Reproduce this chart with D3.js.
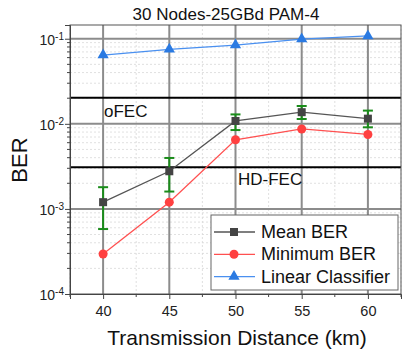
<!DOCTYPE html>
<html><head><meta charset="utf-8">
<script src="https://cdn.jsdelivr.net/npm/d3@7"></script>
<style>body{margin:0;background:#fff}svg{display:block}text{font-family:Arial,"Liberation Sans",sans-serif}</style>
</head><body><svg id="c" width="405" height="352"></svg>
<script>
const distances = [40, 45, 50, 55, 60];
const meanBER = [1.2e-3, 2.77e-3, 1.08e-2, 1.37e-2, 1.15e-2];
const meanErrHigh = [1.8e-3, 3.97e-3, 1.29e-2, 1.62e-2, 1.43e-2];
const meanErrLow = [5.8e-4, 1.6e-3, 8.45e-3, 1.14e-2, 9.1e-3];
const minBER = [2.95e-4, 1.2e-3, 6.5e-3, 8.7e-3, 7.5e-3];
const linearBER = [0.0643, 0.075, 0.0843, 0.099, 0.108];
const thresholds = [{name: "oFEC", value: 2.02e-2}, {name: "HD-FEC", value: 3.08e-3}];
const xTicks = [40, 45, 50, 55, 60];
const yTicks = [1e-4, 1e-3, 1e-2, 1e-1];
const titleText = "30 Nodes-25GBd PAM-4";

const svg = d3.select("#c");
const L = 70, R = 401, T = 25, B = 294;
const x = d3.scaleLinear().domain([37.5, 62.5]).range([L, R]);
const y = d3.scaleLog().domain([1e-4, 0.145]).range([B, T]);

// minor grid
const minorX = d3.range(37.5, 62.6, 2.5).filter(v => v % 5 !== 0);
const minorY = [];
for (let e = -4; e <= -1; e++) for (let m = 2; m <= 9; m++) { const v = m * Math.pow(10, e); if (v < 0.145) minorY.push(v); }
svg.append("g").selectAll("line").data(minorX).join("line")
  .attr("x1", d => x(d)).attr("x2", d => x(d)).attr("y1", T).attr("y2", B)
  .attr("stroke", "#d8d8d8").attr("stroke-width", 0.8).attr("stroke-dasharray", "2,2");
svg.append("g").selectAll("line").data(minorY).join("line")
  .attr("x1", L).attr("x2", R).attr("y1", d => y(d)).attr("y2", d => y(d))
  .attr("stroke", "#d8d8d8").attr("stroke-width", 0.8).attr("stroke-dasharray", "2,2");
// major grid
svg.append("g").selectAll("line").data(xTicks).join("line")
  .attr("x1", d => x(d)).attr("x2", d => x(d)).attr("y1", T).attr("y2", B)
  .attr("stroke", "#8c8c8c").attr("stroke-width", 2);
svg.append("g").selectAll("line").data(yTicks.slice(1)).join("line")
  .attr("x1", L).attr("x2", R).attr("y1", d => y(d)).attr("y2", d => y(d))
  .attr("stroke", "#8c8c8c").attr("stroke-width", 2);

// threshold lines
svg.append("g").selectAll("line").data(thresholds).join("line")
  .attr("x1", L).attr("x2", R).attr("y1", d => y(d.value)).attr("y2", d => y(d.value))
  .attr("stroke", "#000").attr("stroke-width", 2);
svg.append("text").attr("x", 104).attr("y", y(thresholds[0].value) + 19).attr("font-size", 17).attr("fill", "#111").text(thresholds[0].name);
svg.append("text").attr("x", 238).attr("y", y(thresholds[1].value) + 18).attr("font-size", 17).attr("fill", "#111").text(thresholds[1].name);

// frame
svg.append("rect").attr("x", L).attr("y", T).attr("width", R - L).attr("height", B - T)
  .attr("fill", "none").attr("stroke", "#555").attr("stroke-width", 1);

// axes
const xAxis = d3.axisBottom(x).tickValues(xTicks).tickSize(5).tickPadding(7).tickFormat(d3.format("d"));
const gx = svg.append("g").attr("transform", `translate(0,${B})`).call(xAxis);
gx.selectAll(".tick text").attr("font-size", 14.5).attr("fill", "#222");
gx.select(".domain").attr("stroke", "#444");
gx.selectAll(".tick line").attr("stroke", "#444");
svg.append("g").attr("transform", `translate(0,${B})`).selectAll("line").data(minorX).join("line")
  .attr("x1", d => x(d)).attr("x2", d => x(d)).attr("y1", 0).attr("y2", 3).attr("stroke", "#444");

const yAxis = d3.axisLeft(y).tickValues(yTicks).tickSize(5).tickPadding(3).tickFormat(() => "");
const gy = svg.append("g").attr("transform", `translate(${L},0)`).call(yAxis);
gy.select(".domain").attr("stroke", "#444");
gy.selectAll(".tick line").attr("stroke", "#444");
gy.selectAll(".tick").append("text").attr("x", -6).attr("dy", "0.38em").attr("text-anchor", "end")
  .attr("fill", "#222").attr("font-size", 14)
  .each(function(d) {
    const t = d3.select(this);
    t.append("tspan").text("10");
    t.append("tspan").attr("dy", "-0.5em").attr("font-size", 10).text(Math.round(Math.log10(d)));
  });
svg.append("g").attr("transform", `translate(${L},0)`).selectAll("line").data(minorY).join("line")
  .attr("x1", -3).attr("x2", 0).attr("y1", d => y(d)).attr("y2", d => y(d)).attr("stroke", "#444");

// title & labels
svg.append("text").attr("x", 226).attr("y", 20).attr("text-anchor", "middle").attr("font-size", 17).attr("fill", "#111").text(titleText);
svg.append("text").attr("transform", "translate(27,160) rotate(-90)").attr("text-anchor", "middle").attr("font-size", 22).attr("fill", "#111").text("BER");
svg.append("text").attr("x", 237).attr("y", 345).attr("text-anchor", "middle").attr("font-size", 21).attr("fill", "#111").text("Transmission Distance (km)");

const line = d3.line().x(d => x(d[0])).y(d => y(d[1]));
const zip = arr => distances.map((d, i) => [d, arr[i]]);

// linear classifier
const blue = "#2a7ae2", red = "#ff4040", gray = "#555", green = "#1a8c1a";
svg.append("path").attr("d", line(zip(linearBER))).attr("fill", "none").attr("stroke", "#4a90f0").attr("stroke-width", 1.3);
svg.append("g").selectAll("path").data(zip(linearBER)).join("path")
  .attr("transform", d => `translate(${x(d[0])},${y(d[1])})`)
  .attr("d", d3.symbol(d3.symbolTriangle, 55)).attr("fill", blue);

// min BER
svg.append("path").attr("d", line(zip(minBER))).attr("fill", "none").attr("stroke", "#ff5050").attr("stroke-width", 1.3);
svg.append("g").selectAll("circle").data(zip(minBER)).join("circle")
  .attr("cx", d => x(d[0])).attr("cy", d => y(d[1])).attr("r", 4.5).attr("fill", red);

// mean BER
svg.append("path").attr("d", line(zip(meanBER))).attr("fill", "none").attr("stroke", gray).attr("stroke-width", 1.3);
const eb = svg.append("g").attr("stroke", green).attr("stroke-width", 2);
distances.forEach((d, i) => {
  const cx = x(d);
  eb.append("line").attr("x1", cx).attr("x2", cx).attr("y1", y(meanErrHigh[i])).attr("y2", y(meanErrLow[i]));
  eb.append("line").attr("x1", cx - 5).attr("x2", cx + 5).attr("y1", y(meanErrHigh[i])).attr("y2", y(meanErrHigh[i]));
  eb.append("line").attr("x1", cx - 5).attr("x2", cx + 5).attr("y1", y(meanErrLow[i])).attr("y2", y(meanErrLow[i]));
});
svg.append("g").selectAll("rect").data(zip(meanBER)).join("rect")
  .attr("x", d => x(d[0]) - 4).attr("y", d => y(d[1]) - 4).attr("width", 8).attr("height", 8).attr("fill", "#444");

// legend
const lg = svg.append("g");
lg.append("rect").attr("x", 211).attr("y", 215).attr("width", 187).attr("height", 75).attr("fill", "#fff").attr("stroke", "#666").attr("stroke-width", 1);
const items = [
  {label: "Mean BER", color: gray, sym: "sq"},
  {label: "Minimum BER", color: "#ff5050", sym: "ci"},
  {label: "Linear Classifier", color: "#4a90f0", sym: "tr"}
];
items.forEach((it, i) => {
  const cy = 232 + i * 22.3;
  lg.append("line").attr("x1", 214).attr("x2", 255).attr("y1", cy).attr("y2", cy).attr("stroke", it.color).attr("stroke-width", 1.3);
  if (it.sym === "sq") lg.append("rect").attr("x", 230).attr("y", cy - 4).attr("width", 8).attr("height", 8).attr("fill", "#444");
  if (it.sym === "ci") lg.append("circle").attr("cx", 234).attr("cy", cy).attr("r", 4.5).attr("fill", red);
  if (it.sym === "tr") lg.append("path").attr("transform", `translate(234,${cy})`).attr("d", d3.symbol(d3.symbolTriangle, 55)).attr("fill", blue);
  lg.append("text").attr("x", 261).attr("y", cy + 6).attr("font-size", 18).attr("fill", "#111").text(it.label);
});
</script></body></html>
